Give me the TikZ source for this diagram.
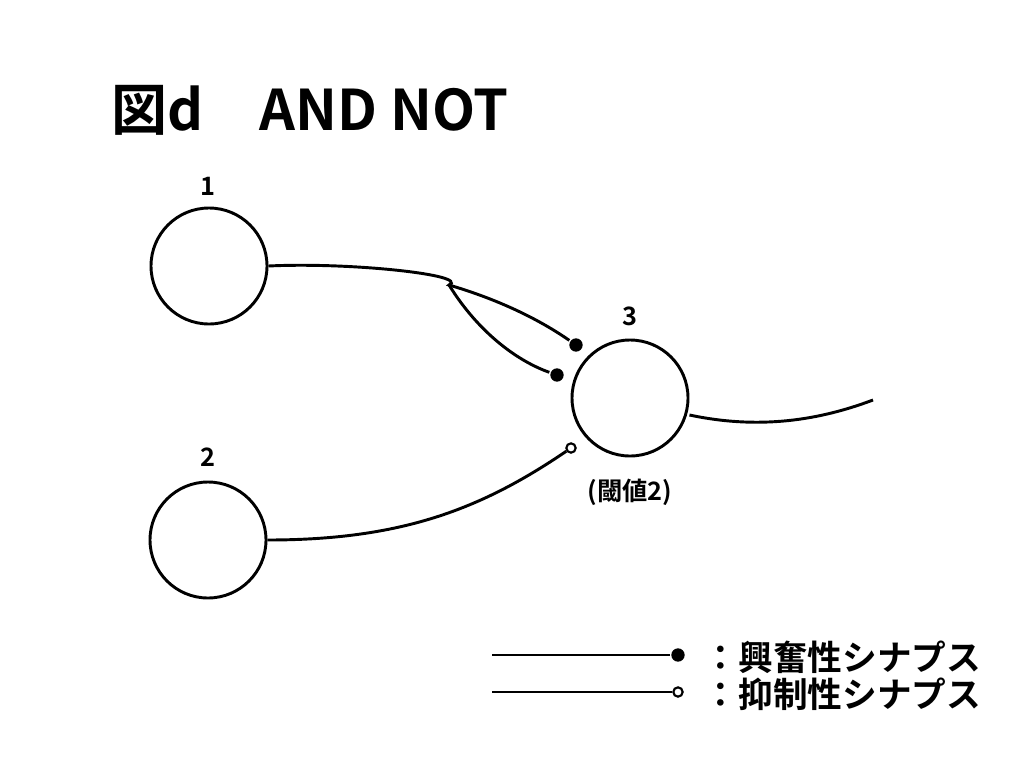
\documentclass[tikz,border=0pt]{standalone}
\usepackage{fontspec}
\setmainfont{Noto Sans CJK JP}[BoldFont={Noto Sans CJK JP Bold}]
\usetikzlibrary{positioning}

\begin{document}
\begin{tikzpicture}[
        x=0.75pt, y=-0.75pt,
        every path/.style={line width=2.2pt},
        neuron/.style={draw, circle, line width=2.2pt, minimum size=87pt, inner sep=0pt},
        label/.style={font=\bfseries\fontsize{19}{19}\selectfont},
        excite/.style={circle, fill=black, inner sep=0pt, minimum size=10pt},
        inhibit/.style={circle, draw, fill=white, line width=1.6pt, inner sep=0pt, minimum size=7pt},
        legend/.style={anchor=west, font=\bfseries\fontsize{26}{26}\selectfont}
    ]
    \useasboundingbox (0,0) rectangle (1024,768);

    % Title
    \node[anchor=west, font=\bfseries\fontsize{42}{42}\selectfont] (title) at (106,110) {図d\quad AND NOT};

    % Neurons
    \node[neuron] (n1) at (209,266) {};
    \node[neuron] (n2) at (208,540) {};
    \node[neuron] (n3) at (630,398) {};
    \node[label] (l1) at (208,186) {1};
    \node[label] (l2) at (208,457) {2};
    \node[label] (l3) at (630,316) {3};
    \node[label] (th) at (630,492) {(閾値2)};

    % Synapses
    \node[excite] (s1) at (576,345) {};
    \node[excite] (s2) at (557,375) {};
    \node[inhibit] (s3) at (571,448) {};
    \coordinate (br) at (449,285);
    \coordinate (out) at (873,400);

    % Edges
    \draw (n1.east) .. controls (350,262) and (470,275) .. (br)
                    .. controls (500,300) and (540,320) .. (s1);
    \draw (br) .. controls (480,335) and (520,362) .. (s2);
    \draw (n2.east) .. controls (400,540) and (480,510) .. (s3);
    \draw (n3.east |- 0,415) .. controls (760,430) and (820,420) .. (out);

    % Legend
    \node[excite] (le) at (678,655) {};
    \node[inhibit] (li) at (678,692) {};
    \coordinate (le0) at (492,655);
    \coordinate (li0) at (492,692);
    \draw (le0) -- (le);
    \draw (li0) -- (li);
    \node[legend] (tle) at (698,657) {：興奮性シナプス};
    \node[legend] (tli) at (698,694) {：抑制性シナプス};
\end{tikzpicture}
\end{document}
